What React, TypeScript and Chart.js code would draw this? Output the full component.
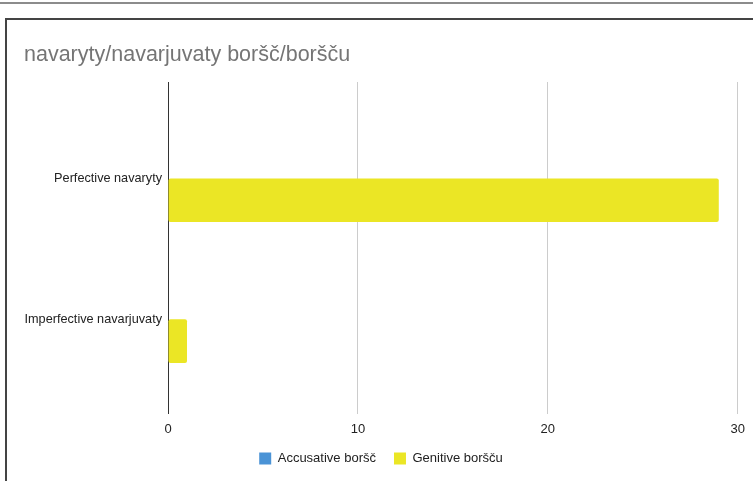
import React, { useEffect, useRef } from "react";
import { Chart, registerables } from "chart.js";

Chart.register(...registerables);

const titleText = "navaryty/navarjuvaty boršč/boršču";
const categories = ["Perfective navaryty", "Imperfective navarjuvaty"];
const seriesNames = ["Accusative boršč", "Genitive boršču"];
const accusativeValues = [0, 0];
const genitiveValues = [29, 1];
const xTicks = [0, 10, 20, 30];
const seriesColors = ["#4a93d6", "#ebe625"];

export default function App() {
  const ref = useRef<HTMLCanvasElement | null>(null);

  useEffect(() => {
    const canvas = ref.current;
    if (!canvas) return;
    document.body.style.margin = "0";
    Chart.defaults.font.family = '"Liberation Sans", Arial, Helvetica, sans-serif';
    const toPoints = (vals: number[]) => categories.map((_, i) => ({ y: i, x: vals[i] }));
    const chart = new Chart(canvas, {
      type: "bar",
      data: {
        datasets: [
          {
            label: seriesNames[0],
            data: toPoints(accusativeValues),
            backgroundColor: seriesColors[0],
            borderWidth: 0,
            borderRadius: 2,
            borderSkipped: false,
          },
          {
            label: seriesNames[1],
            data: toPoints(genitiveValues),
            backgroundColor: seriesColors[1],
            borderWidth: 0,
            borderRadius: 2,
            borderSkipped: false,
          },
        ],
      },
      options: {
        indexAxis: "y",
        animation: false,
        responsive: false,
        events: [],
        layout: { padding: { left: 20, right: 15, top: 0, bottom: 6 } },
        datasets: { bar: { categoryPercentage: 0.618, barPercentage: 1 } },
        scales: {
          y: {
            type: "linear",
            reverse: true,
            offset: false,
            min: -0.684,
            max: 1.668,
            afterBuildTicks: (scale: any) => {
              scale.ticks = categories.map((_, i) => ({ value: i }));
            },
            afterFit: (scale: any) => {
              scale.width = 148;
            },
            grid: { display: false, drawTicks: false, offset: false },
            border: { display: false },
            ticks: {
              autoSkip: false,
              padding: 6,
              color: "#222",
              font: { size: 12.7 },
              callback: (v: any) => categories[v as number] ?? "",
            },
          },
          x: {
            type: "linear",
            min: xTicks[0],
            max: xTicks[xTicks.length - 1],
            afterBuildTicks: (scale: any) => {
              scale.ticks = xTicks.map((v) => ({ value: v }));
            },
            afterFit: (scale: any) => {
              scale.height = 20.5;
            },
            grid: {
              drawTicks: false,
              color: (ctx: any) => (ctx.tick && ctx.tick.value === 0 ? "#333" : "#cccccc"),
              lineWidth: 1,
            },
            border: { display: false },
            ticks: {
              padding: 8,
              color: "#222",
              font: { size: 13 },
            },
          },
        },
        plugins: {
          title: {
            display: true,
            text: titleText,
            align: "start",
            color: "#757575",
            font: { size: 21.5, weight: "normal" },
            padding: { top: 42, bottom: 14.2, left: 4 } as any,
          },
          legend: {
            display: true,
            position: "bottom",
            labels: {
              boxWidth: 12,
              boxHeight: 12,
              padding: 18,
              color: "#222",
              font: { size: 13 },
            },
          },
          tooltip: { enabled: false },
        },
      },
      plugins: [
        {
          id: "titleShift",
          afterLayout: (c: any) => {
            if (c.titleBlock) {
              c.titleBlock.left += 4;
            }
            if (c.legend) {
              c.legend.left += 2;
              c.legend.right += 2;
            }
          },
        },
      ],
    });
    return () => chart.destroy();
  }, []);

  return (
    <div style={{ position: "absolute", left: 0, top: 0, width: 753, height: 481, overflow: "hidden", background: "#fff" }}>
      <div style={{ position: "absolute", left: 0, top: 2, width: 753, height: 2, background: "#8c8c8c" }} />
      <div
        style={{
          position: "absolute",
          left: 5,
          top: 18,
          width: 800,
          height: 500,
          borderLeft: "2px solid #444",
          borderTop: "2px solid #444",
        }}
      />
      <canvas ref={ref} width={753} height={481} style={{ position: "absolute", left: 0, top: 0 }} />
    </div>
  );
}
